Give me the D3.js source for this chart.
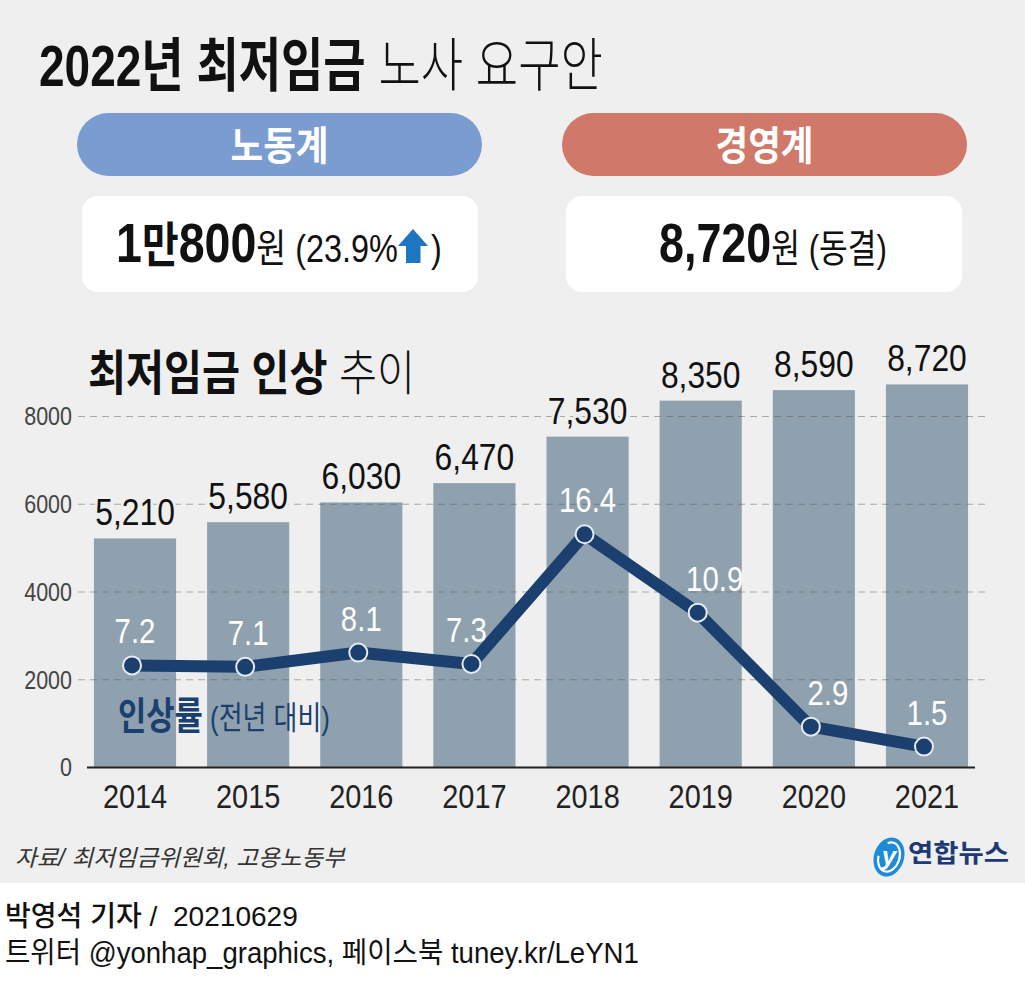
<!DOCTYPE html>
<html><head><meta charset="utf-8">
<script src="https://cdn.jsdelivr.net/npm/d3@7"></script>
<style>
html,body{margin:0;padding:0;background:#fff}
svg{display:block}
text{white-space:pre}
</style>
</head><body>
<svg id="c" width="1025" height="986"></svg>
<script>
// ---------- data ----------
const years = ["2014","2015","2016","2017","2018","2019","2020","2021"];
const wages = [5210, 5580, 6030, 6470, 7530, 8350, 8590, 8720];
const rates = [7.2, 7.1, 8.1, 7.3, 16.4, 10.9, 2.9, 1.5];
const yTicks = [0, 2000, 4000, 6000, 8000];
const titleBold = "2022년 최저임금";
const titleLight = " 노사 요구안";
const groups = ["노동계", "경영계"];
const laborDemand = ["1만800", "원 (23.9%"];
const bizDemand = ["8,720", "원 (동결)"];
const subtitleBold = "최저임금 인상";
const subtitleLight = " 추이";
const legendBold = "인상률";
const legendLight = " (전년 대비)";
const sourceText = "자료/ 최저임금위원회, 고용노동부";
const footer1 = ["박영석 기자 / ", " 20210629"];
const footer2 = "트위터 @yonhap_graphics, 페이스북 tuney.kr/LeYN1";

// ---------- setup ----------
const FF = "'Liberation Sans','Noto Sans CJK KR',sans-serif";
const NAVY = "#1b3f6e";
const svg = d3.select("#c");

svg.append("rect").attr("x",0).attr("y",0).attr("width",1025).attr("height",883).attr("fill","#efefef");
svg.append("rect").attr("x",0).attr("y",883).attr("width",1025).attr("height",103).attr("fill","#ffffff");

// text fitted horizontally to a target width (condensed look)
function fit(parent, x, y, w, anchor, parts, base) {
  const t = parent.append("text").attr("text-anchor", anchor || "start").style("font-family", FF);
  Object.entries(base || {}).forEach(([k, v]) => t.style(k, v));
  parts.forEach(p => {
    const s = t.append("tspan").text(p.t);
    Object.entries(p.s || {}).forEach(([k, v]) => s.style(k, v));
  });
  const len = t.node().getComputedTextLength();
  const sx = w / len;
  t.attr("transform", `translate(${x},${y}) scale(${sx},1)`);
  return sx;
}
// text with fixed horizontal scale
function cond(parent, x, y, sx, anchor, str, base) {
  const t = parent.append("text").attr("text-anchor", anchor || "start").style("font-family", FF)
    .attr("transform", `translate(${x},${y}) scale(${sx},1)`).text(str);
  Object.entries(base || {}).forEach(([k, v]) => t.style(k, v));
  return t;
}

// ---------- header ----------
fit(svg, 39, 86, 564, "start",
  [{t: titleBold, s: {"font-weight": 700}}, {t: titleLight, s: {"font-weight": 300}}],
  {"font-size": "58px", fill: "#111"});

const pillColors = ["#7b9cd0", "#d07869"];
const pillX = [77, 562];
groups.forEach((g, i) => {
  svg.append("rect").attr("x", pillX[i]).attr("y", 113).attr("width", 405).attr("height", 63)
    .attr("rx", 31.5).attr("fill", pillColors[i]);
  fit(svg, pillX[i] + 202.5, 160, 98, "middle", [{t: g}],
    {"font-size": "40px", "font-weight": 700, fill: "#fff"});
});

const boxX = [82, 566];
boxX.forEach(bx => {
  svg.append("rect").attr("x", bx).attr("y", 196).attr("width", 396).attr("height", 96)
    .attr("rx", 16).attr("fill", "#ffffff");
});

// labor demand
const sxL = fit(svg, 116, 262, 282, "start",
  [{t: laborDemand[0].slice(0,1), s: {"font-weight": 700, "font-size": "56px"}},
   {t: laborDemand[0].slice(1,2), s: {"font-weight": 700, "font-size": "48px"}},
   {t: laborDemand[0].slice(2), s: {"font-weight": 700, "font-size": "56px"}},
   {t: laborDemand[1], s: {"font-weight": 400, "font-size": "39px"}}],
  {fill: "#111"});
svg.append("path")
  .attr("d", "M398,246 L413,229 L428,246 L420.5,246 L420.5,263 L406,263 L406,246 Z")
  .attr("fill", "#1d77c0");
cond(svg, 431, 262, sxL, "start", ")", {"font-size": "39px", fill: "#111"});

// business demand
fit(svg, 659, 262, 228, "start",
  [{t: bizDemand[0], s: {"font-weight": 700, "font-size": "56px"}},
   {t: bizDemand[1], s: {"font-weight": 400, "font-size": "39px"}}],
  {fill: "#111"});

// ---------- chart ----------
fit(svg, 88, 390, 327, "start",
  [{t: subtitleBold, s: {"font-weight": 700}}, {t: subtitleLight, s: {"font-weight": 300}}],
  {"font-size": "48px", fill: "#111"});

const x = d3.scaleBand().domain(years).range([78, 984]).paddingInner(0.274).paddingOuter(0.141);
const y = d3.scaleLinear().domain([0, 8000]).range([767, 416]);
const yr = d3.scaleLinear().domain([0, 24.7]).range([768, 416]);
const bw = x.bandwidth();

const data = years.map((yy, i) => ({year: yy, wage: wages[i], rate: rates[i]}));

// bars
svg.append("g").selectAll("rect").data(data).join("rect")
  .attr("x", d => x(d.year)).attr("y", d => y(d.wage))
  .attr("width", bw).attr("height", d => y(0) - y(d.wage))
  .attr("fill", "#8fa1ae");

// y axis with gridlines (drawn over bars)
const yAxis = d3.axisLeft(y).tickValues(yTicks).tickFormat(d3.format("d"))
  .tickSize(-(985 - 78)).tickPadding(6);
const ga = svg.append("g").attr("transform", "translate(78,0)").call(yAxis);
ga.select(".domain").remove();
ga.selectAll(".tick line").attr("stroke", "#555").attr("stroke-opacity", 0.45)
  .attr("stroke-dasharray", "7,5").attr("stroke-width", 1.2)
  .filter(d => d === 0).remove();
ga.selectAll(".tick text")
  .style("font-family", FF).style("font-size", "25px").attr("fill", "#444")
  .attr("dy", "0.35em")
  .attr("transform", "scale(0.86,1)")
  .attr("x", -6 / 0.86);

// baseline
svg.append("line").attr("x1", 87).attr("x2", 975).attr("y1", y(0) + 0.5).attr("y2", y(0) + 0.5)
  .attr("stroke", "#222").attr("stroke-width", 2);

// bar value labels
const fmt = d3.format(",");
data.forEach(d => {
  cond(svg, x(d.year) + bw / 2, y(d.wage) - 13, 0.86, "middle", fmt(d.wage),
    {"font-size": "37px", fill: "#111", stroke: "#efefef", "stroke-width": "6px",
     "paint-order": "stroke", "stroke-linejoin": "round"});
});

// rate line
const px = d => x(d.year) + bw / 2 - 3;
const line = d3.line().x(px).y(d => yr(d.rate));
svg.append("path").datum(data).attr("d", line)
  .attr("fill", "none").attr("stroke", NAVY).attr("stroke-width", 12)
  .attr("stroke-linejoin", "round").attr("stroke-linecap", "round");
svg.append("g").selectAll("circle").data(data).join("circle")
  .attr("cx", px).attr("cy", d => yr(d.rate)).attr("r", 9)
  .attr("fill", NAVY).attr("stroke", "#e6ebf2").attr("stroke-width", 2);

const rfmt = d3.format(".1f");
data.forEach((d, i) => {
  // nudge labels away from the line where it descends steeply after the point
  const prev = i > 0 ? rates[i - 1] : d.rate;
  const next = i < rates.length - 1 ? rates[i + 1] : d.rate;
  const nudge = (prev > d.rate + 3 && next < d.rate) ? 14 : (next > d.rate + 3 ? -8 : 0);
  cond(svg, x(d.year) + bw / 2 + nudge, yr(d.rate) - 22, 0.84, "middle", rfmt(d.rate),
    {"font-size": "35px", fill: "#fff"});
});

// legend
fit(svg, 118, 729, 212, "start",
  [{t: legendBold, s: {"font-weight": 700, "font-size": "38px"}},
   {t: legendLight, s: {"font-weight": 400, "font-size": "32px"}}],
  {fill: NAVY});

// x labels
years.forEach(yy => {
  cond(svg, x(yy) + bw / 2, 808, 0.85, "middle", yy, {"font-size": "34px", fill: "#222"});
});

// ---------- footer ----------
fit(svg, 15, 866, 330, "start", [{t: sourceText}],
  {"font-size": "23px", "font-style": "italic", fill: "#333"});

// logo
const lg = svg.append("g").attr("transform", "translate(889,857) rotate(18)");
lg.append("ellipse").attr("rx", 15).attr("ry", 20).attr("fill", "#1d8bd6");
lg.append("ellipse").attr("rx", 10.5).attr("ry", 15).attr("fill", "none")
  .attr("stroke", "#ffffff").attr("stroke-width", 2.2).attr("stroke-dasharray", "38 16");
lg.append("text").attr("text-anchor", "middle").attr("y", 8).attr("transform", "rotate(-18)")
  .style("font-family", FF).style("font-size", "26px").style("font-style", "italic")
  .style("font-weight", 700).attr("fill", "#fff").text("y");
fit(svg, 908, 862, 101, "start", [{t: "연합뉴스"}],
  {"font-size": "25px", "font-weight": 700, "fill": "#1d3a73"});

fit(svg, 5, 926, 293, "start",
  [{t: footer1[0], s: {"font-weight": 500}}, {t: footer1[1], s: {"font-weight": 400}}],
  {"font-size": "28px", fill: "#111"});
fit(svg, 5, 963, 634, "start", [{t: footer2}], {"font-size": "29px", fill: "#111"});
</script>
</body></html>
